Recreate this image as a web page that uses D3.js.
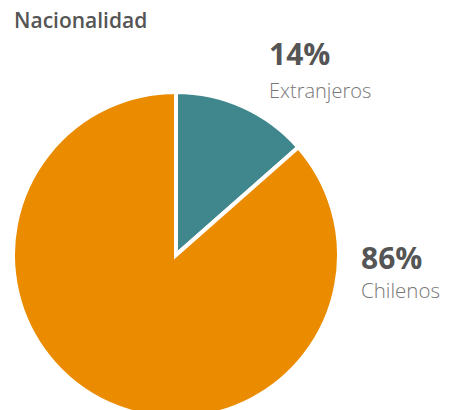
<!DOCTYPE html>
<html><head><meta charset="utf-8">
<script src="https://cdn.jsdelivr.net/npm/d3@7"></script>
<style>body{margin:0;background:#fff}svg{display:block}text{font-family:"Open Sans",sans-serif}</style>
</head><body>
<svg id="c" width="451" height="410"></svg>
<script>
const categories = ["Extranjeros", "Chilenos"];
const values = [13.5, 86.5];
const pctLabels = ["14%", "86%"];
const colors = ["#3F878C", "#EB8C00"];

const svg = d3.select("#c");
const cx = 176, cy = 255, r = 163;

svg.append("text").attr("x", 14).attr("y", 28)
  .attr("font-size", 21).attr("font-weight", 600).attr("fill", "#555")
  .text("Nacionalidad");

const pie = d3.pie().sort(null).value(d => d)(values);
const arc = d3.arc().innerRadius(0).outerRadius(r);
const g = svg.append("g").attr("transform", `translate(${cx},${cy})`);
g.selectAll("path").data(pie).join("path")
  .attr("d", arc).attr("fill", (d, i) => colors[i])
  .attr("stroke", "#fff").attr("stroke-width", 4).attr("stroke-linejoin", "miter");

const labelPos = [[269, 65, 98, 20], [361, 269, 298, 20.5]];
categories.forEach((c, i) => {
  const [x, y1, y2, fs] = labelPos[i];
  svg.append("text").attr("x", x).attr("y", y1).attr("font-size", 30)
    .attr("font-weight", 700).attr("fill", "#555").text(pctLabels[i]);
  svg.append("text").attr("x", x).attr("y", y2).attr("font-size", fs)
    .attr("font-weight", 300).attr("fill", "#777").text(c);
});
</script>
</body></html>
